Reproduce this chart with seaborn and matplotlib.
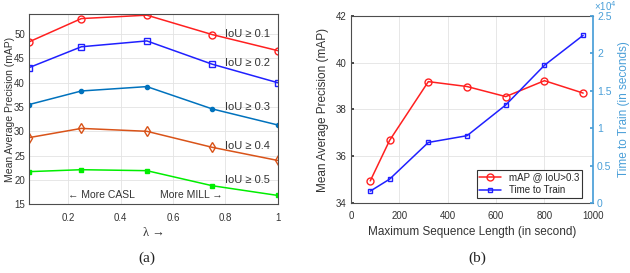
import numpy as np
import pandas as pd
import matplotlib
matplotlib.use("Agg")
import matplotlib.pyplot as plt
import seaborn as sns

# (a) mAP vs lambda for several IoU thresholds
lam = [0.05, 0.25, 0.5, 0.75, 1.0]
iou_labels = ["IoU \u2265 0.1", "IoU \u2265 0.2", "IoU \u2265 0.3", "IoU \u2265 0.4", "IoU \u2265 0.5"]
map_iou01 = [48.4, 53.2, 53.9, 49.9, 46.6]
map_iou02 = [43.1, 47.4, 48.6, 43.8, 40.0]
map_iou03 = [35.5, 38.3, 39.2, 34.6, 31.3]
map_iou04 = [28.7, 30.6, 30.0, 26.7, 24.0]
map_iou05 = [21.7, 22.1, 21.9, 18.8, 16.8]
label_y = [50.0, 44.0, 34.9, 26.9, 19.9]

# (b) mAP and training time vs max sequence length
seq_len = [80, 160, 320, 480, 640, 800, 960]
map_seq = [34.95, 36.68, 39.19, 38.98, 38.55, 39.23, 38.70]
train_time = [1600, 3200, 8100, 9000, 13100, 18400, 22400]

sns.set_theme(style="whitegrid")
plt.rcParams["font.family"] = ["Liberation Sans", "DejaVu Sans"]
plt.rcParams["axes.edgecolor"] = "#4d4d4d"
plt.rcParams["grid.color"] = "#e3e3e3"
plt.rcParams["grid.linewidth"] = 0.6

tick_col = "#333333"
right_col = "#4a9fd8"

fig = plt.figure(figsize=(6.3, 2.73), dpi=100)
ax1 = fig.add_axes([0.046, 0.252, 0.395, 0.696])
ax2 = fig.add_axes([0.557, 0.256, 0.384, 0.686])

df_a = pd.DataFrame({
    "lam": lam * 5,
    "mAP": map_iou01 + map_iou02 + map_iou03 + map_iou04 + map_iou05,
    "iou": sum([[l] * len(lam) for l in iou_labels], []),
})
colors_a = ["#ff2020", "#2020ff", "#0072bd", "#d95319", "#00ee00"]
marker_a = [
    dict(marker="o", markersize=5, markerfacecolor="none"),
    dict(marker="s", markersize=4.5, markerfacecolor="none"),
    dict(marker="o", markersize=3),
    dict(marker="d", markersize=5, markerfacecolor="none"),
    dict(marker="s", markersize=2.5),
]
for lab, col, mk, ly in zip(iou_labels, colors_a, marker_a, label_y):
    sub = df_a[df_a["iou"] == lab]
    sns.lineplot(data=sub, x="lam", y="mAP", ax=ax1, color=col, linewidth=1.1,
                 markeredgecolor=col, markeredgewidth=1.0, **mk)
    ax1.text(0.8, ly, lab, fontsize=8, color="#333333", va="center", ha="left")

ax1.text(0.2, 16.9, "\u2190 More CASL", fontsize=7.5, color="#333333", va="center", ha="left")
ax1.text(0.79, 16.9, "More MILL \u2192", fontsize=7.5, color="#333333", va="center", ha="right")
ax1.set_xlim(0.05, 1.0)
ax1.set_ylim(15, 54.1)
ax1.set_xticks([0.2, 0.4, 0.6, 0.8, 1.0])
ax1.set_xticklabels(["0.2", "0.4", "0.6", "0.8", "1"])
ax1.set_yticks(range(15, 51, 5))
ax1.set_xlabel("\u03bb \u2192", fontsize=9, family=["Liberation Serif", "DejaVu Serif"],
               color="#333333", labelpad=3)
ax1.set_ylabel("Mean Average Precision (mAP)", fontsize=7.5, color="#333333")
ax1.yaxis.set_label_coords(-0.058, 0.5)

# (b)
df_b = pd.DataFrame({"len": seq_len, "mAP": map_seq, "time": train_time})
sns.lineplot(data=df_b, x="len", y="mAP", ax=ax2, color="#ff2020", linewidth=1.1,
             marker="o", markersize=5, markerfacecolor="none", markeredgecolor="#ff2020",
             markeredgewidth=1.0, label="mAP @ IoU>0.3", legend=False)
ax3 = ax2.twinx()
sns.lineplot(data=df_b, x="len", y="time", ax=ax3, color="#2020ff", linewidth=1.1,
             marker="s", markersize=3.5, markerfacecolor="none", markeredgecolor="#2020ff",
             markeredgewidth=1.0, label="Time to Train", legend=False)
ax2.set_xlim(0, 1000)
ax2.set_ylim(34, 42)
ax2.set_xticks(range(0, 1001, 200))
ax2.set_yticks(range(34, 43, 2))
ax3.set_ylim(0, 25000)
ax3.set_yticks(np.arange(0, 25001, 5000))
ax3.set_yticklabels(["0", "0.5", "1", "1.5", "2", "2.5"])
ax3.grid(False)
ax3.tick_params(axis="y", colors=right_col, labelsize=7.5, length=2, pad=3, direction="in")
ax3.spines["right"].set_color(right_col)
for s in ["top", "left", "bottom"]:
    ax3.spines[s].set_visible(False)
ax3.set_ylabel("Time to Train (in seconds)", fontsize=8.5, color=right_col)
ax3.yaxis.set_label_coords(1.104, 0.5)
ax3.text(1.006, 1.025, "\u00d710$^{4}$", transform=ax3.transAxes, fontsize=7,
         color=right_col, ha="left", va="baseline")
ax2.set_xlabel("Maximum Sequence Length (in second)", fontsize=8.5, color="#333333", labelpad=3)
ax2.set_ylabel("Mean Average Precision (mAP)", fontsize=8.5, color="#333333")
ax2.yaxis.set_label_coords(-0.090, 0.5)

h1, lb1 = ax2.get_legend_handles_labels()
h2, lb2 = ax3.get_legend_handles_labels()
leg = ax3.legend(h1 + h2, lb1 + lb2, loc="lower right", fontsize=7, frameon=True,
                 fancybox=False, edgecolor="#333333", framealpha=1, borderpad=0.3,
                 handlelength=2.2, labelspacing=0.3, bbox_to_anchor=(0.975, 0.0))
leg.get_frame().set_linewidth(0.8)

for ax in (ax1, ax2):
    ax.tick_params(axis="both", labelsize=7, colors=tick_col, length=2, pad=3, direction="in")
    ax.tick_params(axis="x", pad=6)
    for s in ax.spines.values():
        s.set_linewidth(0.8)
ax2.spines["right"].set_visible(False)

fig.text(0.233, 0.055, "(a)", fontsize=11, family=["Liberation Serif", "DejaVu Serif"],
         ha="center", va="center", color="#222222")
fig.text(0.757, 0.055, "(b)", fontsize=11, family=["Liberation Serif", "DejaVu Serif"],
         ha="center", va="center", color="#222222")

fig.savefig("out.png", dpi=100)
